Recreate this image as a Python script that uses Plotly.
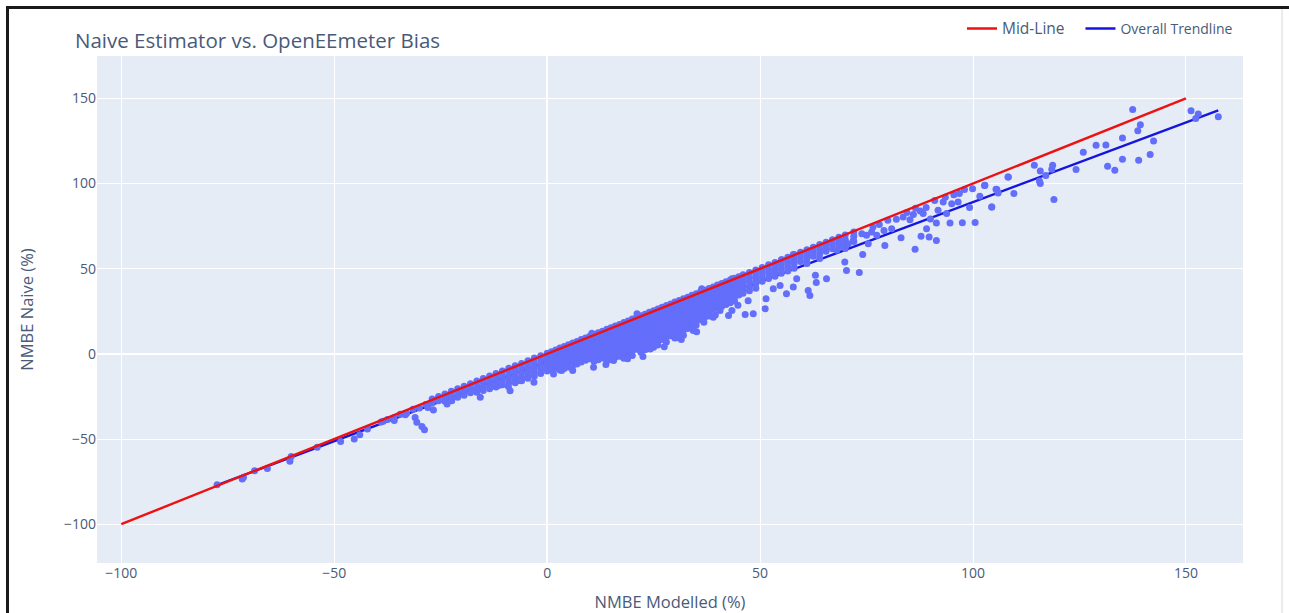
import plotly.graph_objects as go

# ---------------- data ----------------
# dense band: column x positions and the naive values stacked in each column
band_cols = [-27, -25.5, -24, -22.5, -21, -19.5, -18, -16.5, -15, -13.5, -12, -10.5, -9, -7.5, -6, -4.5, -3, -1.5,
             0, 1, 2, 3, 4, 5, 6, 7, 8, 9, 10, 11, 12, 13, 14, 15, 16, 17, 18, 19, 20, 21, 22, 23, 24, 25,
             26, 27, 28, 29, 30, 31, 32, 33, 34, 35, 36, 37, 38, 39, 40, 41, 42, 43, 44, 45, 46, 47.5, 49,
             50.5, 52, 53.5, 55, 56.5, 58, 59.5, 61, 62.5, 64, 65.5, 67, 68.5, 70, 72]
band_rows = [
    [-26.5, -28.8], [-25, -27.5], [-23.5, -26, -27.8], [-22, -24.6, -27], [-20.5, -23, -25.5],
    [-19, -21.6, -24.3], [-17.5, -20.2, -22.8], [-16, -18.7, -21.2], [-14.5, -17, -19.6, -21.5],
    [-13, -15.8, -18.4, -20.5], [-11.6, -14.3, -17, -19.5], [-10, -12.8, -15.5, -18.2],
    [-8.5, -11.3, -14, -16.8], [-7, -9.8, -12.5, -15.2, -17], [-5.6, -8.3, -11, -13.6, -15.8],
    [-4, -6.8, -9.5, -12.2, -14.3], [-2.5, -5.3, -8, -10.6, -13], [-1.1, -3.8, -6.5, -9.1, -11.6],
    [0.4, -2.4, -5, -7.6, -10], [1.3, -1.4, -4, -6.6, -9.2], [2.3, -0.5, -3.1, -5.8, -8.4],
    [3.4, 0.6, -2, -4.7, -7.3, -9.5], [4.3, 1.5, -1.1, -3.7, -6.2, -8.6], [5.3, 2.6, 0, -2.7, -5.2, -7.7],
    [6.4, 3.6, 0.9, -1.8, -4.3, -6.8], [7.3, 4.6, 2, -0.7, -3.3, -5.9], [8.4, 5.6, 3, 0.3, -2.3, -4.8],
    [9.3, 6.6, 4, 1.3, -1.4, -3.8], [10.4, 7.6, 5, 2.3, -0.4, -2.9], [11.3, 8.6, 6, 3.3, 0.6, -2, -4.4],
    [12.4, 9.7, 7, 4.3, 1.6, -1, -3.4], [13.3, 10.6, 8, 5.3, 2.6, 0, -2.5],
    [14.4, 11.7, 9, 6.3, 3.6, 1, -1.6, -4.2], [15.3, 12.6, 10, 7.3, 4.6, 2, -0.5, -3.3],
    [16.4, 13.7, 11, 8.3, 5.6, 3, 0.4, -2.0], [17.3, 14.6, 12, 9.3, 6.6, 4, 1.4, -1.4],
    [18.4, 15.7, 13, 10.3, 7.6, 5, 2.4, -0.3, -2.6], [19.3, 16.6, 14, 11.3, 8.6, 6, 3.5, 0.8],
    [20.4, 17.7, 15, 12.3, 9.6, 7, 4.5, 1.9, -0.9], [21.3, 18.6, 16, 13.3, 10.6, 8, 5.5, 2.7],
    [22.4, 19.7, 17, 14.3, 11.6, 9, 6.4, 3.9, 1.0], [23.3, 20.6, 18, 15.3, 12.6, 10, 7.4, 4.6, 2.4],
    [24.4, 21.7, 19, 16.3, 13.6, 11, 8.3, 5.8], [25.3, 22.6, 20, 17.3, 14.6, 12, 9.3, 6.5, 3.9],
    [26.4, 23.7, 21, 18.3, 15.6, 13, 10.3, 7.8, 5.2], [27.3, 24.6, 22, 19.3, 16.6, 14, 11.3, 8.5],
    [28.4, 25.7, 23, 20.3, 17.6, 15, 12.4, 9.9, 7.0], [29.3, 26.6, 24, 21.3, 18.6, 16, 13.3, 10.6],
    [30.4, 27.7, 25, 22.3, 19.6, 17, 14.3, 11.8, 9.3], [31.3, 28.6, 26, 23.3, 20.6, 18, 15.3, 12.5],
    [32.4, 29.7, 27, 24.3, 21.6, 19, 16.5, 13.8, 11.0], [33.3, 30.6, 28, 25.3, 22.6, 20, 17.4, 14.9],
    [34.4, 31.7, 29, 26.3, 23.6, 21, 18.4, 15.6], [35.3, 32.6, 30, 27.3, 24.6, 22, 19.3, 16.9],
    [36.4, 33.7, 31, 28.3, 25.6, 23, 20.2], [37.3, 34.6, 32, 29.3, 26.6, 24, 21.5], [38.4, 35.7, 33, 30.3, 27.6, 25, 22.3],
    [39.3, 36.6, 34, 31.3, 28.6, 26], [40.4, 37.7, 35, 32.3, 29.6, 27], [41.3, 38.6, 36, 33.3, 30.6, 28],
    [42.4, 39.7, 37, 34.3, 31.6, 29], [43.3, 40.6, 38, 35.3, 32.6, 30], [44.4, 41.7, 39, 36.3, 33.6, 31],
    [45.3, 42.6, 40, 37.3, 34.6], [46.4, 43.7, 41, 38.3, 35.6], [47.8, 45, 42.3, 39.6, 37],
    [49.3, 46.6, 44, 41.3, 38.6], [50.7, 48, 45.3, 42.6], [52.3, 49.6, 47, 44.3], [53.7, 51, 48.3, 45.6],
    [55.3, 52.6, 50, 47.3], [56.7, 54, 51.3, 48.6], [58.3, 55.6, 53, 50.3], [59.7, 57, 54.3],
    [61.2, 58.5, 55.8, 53], [62.6, 60, 57.3], [64.2, 61.5, 58.8, 56], [65.6, 63, 60.3], [67, 64.4, 61.7],
    [68.5, 65.8, 63.1], [69.8, 67.2, 64.5, 61.8], [71.5, 69, 66],
]

# scattered points outside the dense band
scatter_x = [-77.5, -71.6, -71.3, -68.7, -65.7, -60.1, -60.4, -54, -48.5, -45.3, -44, -42.2, -39, -38.5, -37.5,
             -36, -35.9, -34.5, -33.3, -33, -31.5, -31, -30.6, -30, -29.4, -28.8, -28.5, -28, -26.7, -23.5,
             -22.4, -15.7, -16.5, -8.7, -3.1, -9.1, -11.4, -6.7, 3.4, 6, 1.5, 10.9, 15.6, 18.9, 16, 18.7,
             24.2, 30.4, 34.3, 35.1, 21.1, 10.5, 36.3,
             34.3, 34.3, 39, 40.6, 42.6, 43.4, 46.5, 48.4, 51.2, 51.4, 53.1, 54.7, 56.2, 57.8, 58.6, 61.3,
             61.7, 63, 63.2, 65.6, 68, 69.5, 70.7, 71.9, 69.9, 70.3, 73.3, 74.1, 75.4, 73.9, 75, 76.2, 77.4,
             79.3, 79.1, 80.9, 83.1, 83.6, 85.2, 86, 87.6, 86.4, 88.3, 87.8, 89.1, 89.7, 90, 91.4, 91.4,
             91.8, 93.8, 93, 95, 96.5, 96.8, 94.6, 97.5, 100.5, 99.2, 99.9, 102.7, 105.6, 104.4, 108.3,
             57.8, 55.1, 43.4, 76.5, 78, 80, 82, 84.5, 86.5, 89, 91, 93.5, 95.5, 98,
             137.5, 151.2, 152.9, 152.3, 157.6, 139.3, 138.7, 135.1, 142.4, 128.9, 131.2, 125.9, 135.1,
             141.6, 138.9, 131.6, 133.3, 124.2, 114.4, 115.8, 118.7, 118.5, 117.1, 115.6, 115.8, 119,
             108.2, 102.8, 105.4, 105.9, 109.6, 101.6, 104.4,
             27.5, 31.5, 36.8, 39.5, 44.8, 47.2, 22.5, 13.8]
scatter_y = [-76.9, -73.5, -72.5, -68.6, -67.3, -60.2, -63.1, -54.9, -51.4, -50, -47.5, -44.1, -40, -39.5, -38.5,
             -37.5, -39.2, -35.5, -35.7, -34.8, -32.5, -37.3, -40.2, -31.8, -42.6, -44.5, -29.8, -31.5, -32.9, -29.4,
             -27.5, -25.5, -22.6, -21.6, -16.7, -19.2, -18.6, -15.7, -9.8, -9.8, -11.8, -7.9, -3.9, -2.9, 1.9, 1.9,
             2.9, 9.4, 13.7, 13, 23.5, 12.1, 38.2,
             19.6, 15.6, 21.5, 25.5, 22.5, 25.5, 23.1, 23.5, 26.5, 32.3, 38.2, 40.2, 35.3, 39.2, 44.1, 37.2,
             34.3, 46.1, 41.9, 44.1, 60.8, 62.7, 64.7, 66.6, 53.9, 49, 47.8, 58.4, 64.7, 70.6, 69.6, 71.5, 69.6,
             63.7, 72.5, 73.5, 68.2, 80.4, 78.8, 81.9, 83.9, 61.4, 82.4, 69, 73.5, 68.6, 79.2, 76.8, 66.6,
             84.3, 82.4, 89.2, 88.2, 89.2, 94.1, 76.8, 77, 77.2, 85.9, 97, 98.8, 96.5, 86.2, 103.9,
             58.4, 55.3, 44.1, 74.5, 76, 78.5, 79, 83, 85.5, 86, 90, 92, 93.5, 96.5,
             143.5, 142.7, 140.8, 138.2, 139.2, 134.5, 131, 126.8, 125, 122.5, 122.7, 118.4, 114.3,
             117, 113.7, 110.2, 107.8, 108.2, 110.8, 107.4, 110.8, 108.4, 104.7, 101.5, 100, 90.6,
             103.9, 99, 96.6, 94.5, 94.1, 92.5, 86.2,
             4.2, 8.4, 18.5, 22.8, 28.5, 31.2, -1.5, -6.2]

mid_x = [-100, 150]
mid_y = [-100, 150]
trend_x = [-77.5, 157.6]
trend_y = [-77.0, 143.0]

x_ticks = [-100, -50, 0, 50, 100, 150]
y_ticks = [-100, -50, 0, 50, 100, 150]

# ---------------- figure ----------------
pts_x, pts_y = [], []
for cx, rows in zip(band_cols, band_rows):
    for v in rows:
        pts_x.append(cx)
        pts_y.append(v)
pts_x += scatter_x
pts_y += scatter_y

W, H = 1289, 613
L, R, T, B = 97, 46, 56, 50
PW, PH = W - L - R, H - T - B

def px(xp):
    return (xp - L) / PW

def py(yp):
    return 1 - (yp - T) / PH

fig = go.Figure()
# draw order: trendline under the markers, mid-line on top
fig.add_trace(go.Scatter(x=trend_x, y=trend_y, mode="lines", name="Overall Trendline",
                         line=dict(color="#1515dd", width=2.4), legendrank=2))
fig.add_trace(go.Scatter(x=pts_x, y=pts_y, mode="markers", showlegend=False,
                         marker=dict(color="#636efa", size=7), name="NMBE"))
fig.add_trace(go.Scatter(x=mid_x, y=mid_y, mode="lines",
                         name="<span style='font-size:15.5px'>Mid-Line</span>\u00a0\u00a0\u00a0",
                         line=dict(color="#ee1111", width=2.4), legendrank=1))

font_family = '"Open Sans", verdana, arial, sans-serif'
fig.update_layout(
    template="plotly",
    width=W, height=H, autosize=False,
    margin=dict(l=L, r=R, t=T, b=B, autoexpand=False),
    paper_bgcolor="white",
    font=dict(family=font_family, color="#2a3f5f"),
    title=dict(text="Naive Estimator vs. OpenEEmeter Bias", x=75 / W, xanchor="left",
               y=1 - 41 / H, yanchor="middle", font=dict(size=20.5, color="#4a5a78")),
    legend=dict(orientation="h", x=px(1238), xanchor="right", y=1.022, yanchor="bottom",
                font=dict(size=14, color="#4a5a78"), bgcolor="rgba(0,0,0,0)"),
    xaxis=dict(range=[-105.7, 163.4], tickvals=x_ticks, ticktext=[str(v).replace("-", "\u2212") for v in x_ticks],
               tickfont=dict(size=14, color="#4a5a78"),
               title=dict(text="NMBE Modelled (%)", font=dict(size=16.5, color="#4a5a78"))),
    yaxis=dict(range=[-122.8, 174.9], tickvals=y_ticks, ticktext=[str(v).replace("-", "\u2212") for v in y_ticks],
               tickfont=dict(size=14, color="#4a5a78"),
               title=dict(text="NMBE Naive (%)", standoff=26, font=dict(size=16.5, color="#4a5a78"))),
    shapes=[
        dict(type="line", xref="paper", yref="paper", x0=px(6), x1=px(1289), y0=py(7.5), y1=py(7.5),
             line=dict(color="#1a1a1a", width=3)),
        dict(type="line", xref="paper", yref="paper", x0=px(7.5), x1=px(7.5), y0=py(6), y1=py(620),
             line=dict(color="#1a1a1a", width=3)),
        dict(type="line", xref="paper", yref="paper", x0=px(1282), x1=px(1282), y0=py(9), y1=py(620),
             line=dict(color="#d8d8d8", width=1)),
    ],
)

fig.write_html("out.html")
